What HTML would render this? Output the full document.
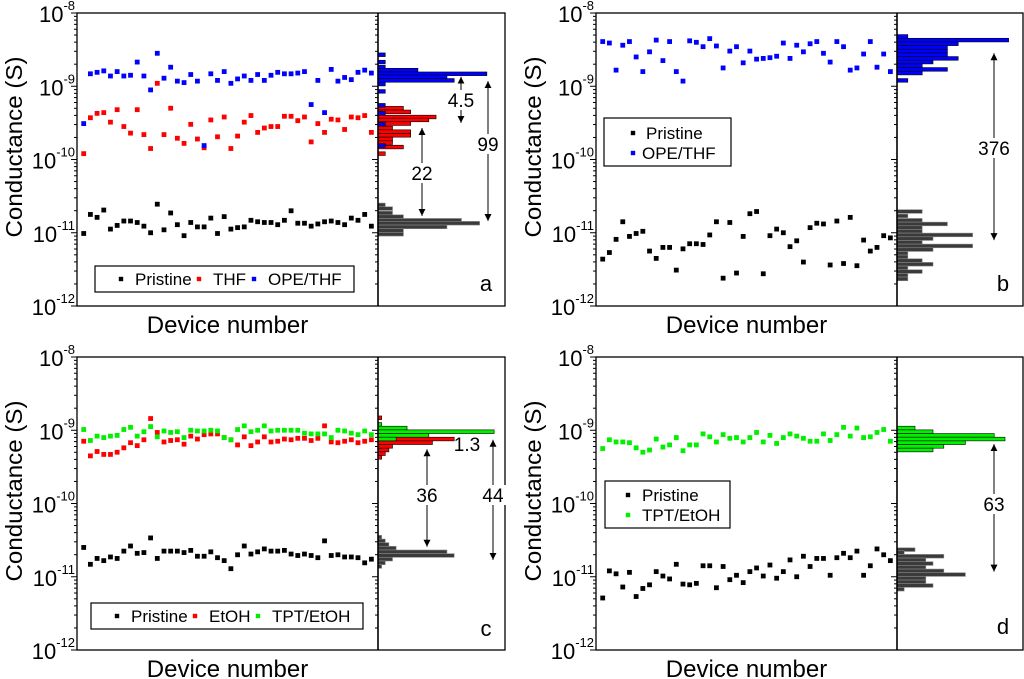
<!DOCTYPE html>
<html><head><meta charset="utf-8">
<style>
html,body{margin:0;padding:0;background:#fff;}
svg{display:block;font-family:"Liberation Sans",Arial,sans-serif;}
</style></head>
<body>
<svg id="fig" width="1024" height="679" viewBox="0 0 1024 679" xmlns="http://www.w3.org/2000/svg">
<defs>
<marker id="ah" viewBox="0 0 10 10" refX="10" refY="5" markerWidth="7" markerHeight="9" orient="auto-start-reverse" markerUnits="userSpaceOnUse"><path d="M0,0 L10,5 L0,10 z" fill="#000"/></marker>
</defs>
</svg>
<script>
// ---------- data (log10 of conductance in S) ----------
const aPristine=[-11.01,-10.75,-10.79,-10.69,-10.95,-10.90,-10.84,-10.84,-10.86,-10.91,-11.0,-10.61,-10.96,-10.73,-10.89,-11.04,-10.86,-10.92,-10.92,-10.80,-11.01,-10.78,-10.95,-10.93,-10.92,-10.83,-10.85,-10.86,-10.86,-10.89,-10.83,-10.70,-10.87,-10.87,-10.91,-10.88,-10.85,-10.84,-10.86,-10.89,-10.80,-10.83,-10.75,-10.91];
const aTHF=[-9.92,-9.43,-9.37,-9.36,-9.49,-9.32,-9.55,-9.64,-9.32,-9.66,-9.85,-8.96,-9.66,-9.30,-9.71,-9.78,-9.52,-9.72,-9.84,-9.46,-9.69,-9.42,-9.85,-9.68,-9.49,-9.40,-9.63,-9.57,-9.55,-9.55,-9.41,-9.41,-9.47,-9.42,-9.76,-9.51,-9.63,-9.45,-9.46,-9.59,-9.42,-9.43,-9.40,-9.63];
const aOPE=[-9.51,-8.83,-8.81,-8.79,-8.86,-8.80,-8.86,-8.85,-8.67,-8.86,-9.05,-8.55,-8.89,-8.74,-8.93,-8.95,-8.84,-8.93,-9.81,-8.83,-8.92,-8.80,-8.96,-8.90,-8.86,-8.92,-8.84,-8.92,-8.85,-8.81,-8.83,-8.83,-8.82,-8.80,-9.25,-8.92,-9.36,-8.77,-8.93,-8.88,-8.91,-8.81,-8.78,-8.82];
const bPristine=[-11.36,-11.27,-11.09,-10.85,-11.05,-11.01,-10.98,-11.25,-11.35,-11.20,-11.20,-11.51,-11.22,-11.15,-11.15,-11.16,-11.03,-10.85,-11.62,-10.86,-11.55,-11.05,-10.74,-10.71,-11.56,-11.04,-10.95,-11.0,-11.19,-11.11,-11.40,-10.93,-10.87,-10.88,-11.44,-10.84,-11.42,-10.79,-11.45,-11.10,-11.25,-11.20,-11.04,-11.07];
const bOPE=[-8.39,-8.41,-8.78,-8.44,-8.39,-8.60,-8.80,-8.53,-8.37,-8.65,-8.39,-8.80,-8.93,-8.38,-8.40,-8.46,-8.35,-8.45,-8.75,-8.52,-8.46,-8.68,-8.52,-8.63,-8.62,-8.61,-8.59,-8.41,-8.62,-8.44,-8.53,-8.42,-8.39,-8.55,-8.67,-8.39,-8.46,-8.78,-8.75,-8.56,-8.39,-8.74,-8.56,-8.80];
const cPristine=[-10.60,-10.83,-10.75,-10.78,-10.73,-10.75,-10.65,-10.58,-10.68,-10.67,-10.47,-10.75,-10.65,-10.65,-10.65,-10.67,-10.64,-10.72,-10.72,-10.66,-10.74,-10.78,-10.89,-10.70,-10.58,-10.69,-10.66,-10.62,-10.65,-10.65,-10.64,-10.69,-10.71,-10.69,-10.71,-10.74,-10.51,-10.71,-10.70,-10.73,-10.73,-10.74,-10.81,-10.76];
const cEtOH=[-9.15,-9.35,-9.29,-9.33,-9.33,-9.30,-9.24,-9.17,-9.21,-9.13,-8.84,-9.03,-9.16,-9.14,-9.13,-9.19,-9.08,-9.12,-9.06,-9.05,-9.05,-9.10,-9.13,-9.20,-9.09,-9.21,-9.16,-9.09,-9.16,-9.15,-9.12,-9.13,-9.11,-9.11,-9.14,-9.11,-8.94,-9.16,-9.17,-9.15,-9.13,-9.17,-9.15,-9.13];
const cTPT=[-8.99,-9.14,-9.08,-9.10,-9.08,-9.07,-8.99,-8.96,-9.08,-9.02,-8.95,-9.09,-9.01,-9.03,-9.02,-9.10,-9.0,-9.01,-9.01,-9.0,-9.01,-9.10,-9.13,-8.99,-8.94,-9.02,-9.0,-8.94,-9.01,-9.0,-9.0,-9.0,-9.0,-9.04,-9.05,-9.05,-9.05,-9.10,-9.0,-9.01,-9.04,-9.06,-9.01,-9.06];
const dPristine=[-11.29,-10.92,-10.96,-11.14,-10.94,-11.27,-11.16,-11.11,-10.93,-10.99,-11.03,-10.83,-11.10,-11.11,-11.09,-10.85,-10.85,-11.15,-10.86,-11.04,-10.98,-11.08,-10.93,-10.88,-10.99,-10.84,-11.02,-10.93,-10.77,-11.0,-10.72,-10.86,-10.75,-10.75,-10.98,-10.74,-10.68,-10.74,-10.65,-10.98,-10.85,-10.62,-10.70,-10.78];
const dTPT=[-9.25,-9.13,-9.16,-9.16,-9.17,-9.24,-9.30,-9.27,-9.12,-9.23,-9.20,-9.10,-9.28,-9.20,-9.20,-9.05,-9.09,-9.16,-9.06,-9.11,-9.10,-9.16,-9.10,-9.03,-9.16,-9.07,-9.18,-9.10,-9.05,-9.08,-9.11,-9.15,-9.15,-9.05,-9.14,-9.06,-8.96,-9.08,-8.97,-9.10,-9.09,-9.03,-8.99,-9.15];

// histogram bins: centre (log10 G) and counts
const aHistBlackBins=[-10.62,-10.67,-10.73,-10.78,-10.83,-10.87,-10.92,-10.97,-11.02];
const aHistBlackCounts=[2,4,4,7,23,28,19,7,7];
const aHistRedBins=[-9.30,-9.35,-9.42,-9.46,-9.51,-9.57,-9.62,-9.67,-9.72,-9.77,-9.83,-9.92];
const aHistRedCounts=[7,9,16,14,9,4,9,9,4,4,7,2];
const aHistBlueBins=[-8.57,-8.67,-8.74,-8.78,-8.83,-8.87,-8.92,-8.97,-9.07,-9.26,-9.37,-9.52,-9.81];
const aHistBlueCounts=[2,2,2,11,30,19,21,2,2,2,2,2,2];
const bHistBlueBins=[-8.32,-8.37,-8.42,-8.47,-8.52,-8.57,-8.62,-8.67,-8.72,-8.77,-8.82,-8.92];
const bHistBlueCounts=[3,31,17,14,14,14,17,10,7,14,7,3];
const bHistBlackBins=[-10.71,-10.77,-10.83,-10.88,-10.93,-10.98,-11.03,-11.08,-11.13,-11.18,-11.23,-11.28,-11.33,-11.38,-11.43,-11.48,-11.53,-11.58,-11.63];
const bHistBlackCounts=[7,3,7,14,7,7,21,10,7,21,10,3,3,7,10,3,7,3,3];
const cHistBlackBins=[-10.46,-10.51,-10.56,-10.61,-10.66,-10.71,-10.76,-10.81,-10.86];
const cHistBlackCounts=[1,2,3,5,19,21,4,2,1];
const cHistRedBins=[-8.83,-9.12,-9.17,-9.22,-9.27,-9.32,-9.37];
const cHistRedCounts=[1,21,15,4,3,2,1];
const cHistGreenBins=[-8.92,-8.97,-9.02,-9.07,-9.12];
const cHistGreenCounts=[1,8,32,14,5];
const dHistGreenBins=[-8.97,-9.02,-9.07,-9.12,-9.17,-9.22,-9.27];
const dHistGreenCounts=[5,10,27,30,19,13,10];
const dHistBlackBins=[-10.63,-10.67,-10.72,-10.77,-10.82,-10.87,-10.92,-10.97,-11.02,-11.07,-11.12,-11.17];
const dHistBlackCounts=[5,2,13,8,10,8,13,19,8,8,10,2];

const yTickExps=[-8,-9,-10,-11,-12];
const BIN=0.05, HISTMAX=35;

const NS="http://www.w3.org/2000/svg";
const svg=document.getElementById('fig');
function mk(tag,attrs,parent){const e=document.createElementNS(NS,tag);for(const k in attrs)e.setAttribute(k,attrs[k]);(parent||svg).appendChild(e);return e;}

function panel(cfg){
  const g=mk('g',{});
  
  
  const L=cfg.left,T=cfg.top,R=cfg.mid,HR=cfg.right,B=T+293;
  const y=v=>T+(-8-v)*73.25;
  const x=i=>L+6.7+i*6.69;
  const hx=c=>R+c*(HR-R)/HISTMAX;
  cfg.hists.forEach(h=>{
    h.bins.forEach((b,i)=>{
      const r=mk('rect',{x:R,y:y(b+BIN/2),width:Math.max(0,hx(h.counts[i])-R),height:BIN*73.25,fill:h.fill,stroke:h.stroke,'stroke-width':0.6},g);
      
      
    });
  });
  cfg.series.forEach(s=>{
    s.data.forEach((v,i)=>{
      const r=mk('rect',{x:x(i)-2.4,y:y(v)-2.4,width:4.8,height:4.8,fill:s.color},g);
      
      
    });
  });
  const fr=mk('rect',{x:L,y:T,width:HR-L,height:B-T,fill:'none',stroke:'#000','stroke-width':1.3},g);
  
  
  const dv=mk('line',{x1:R,y1:T,x2:R,y2:B,stroke:'#000','stroke-width':1.6},g);
  
  
  for(let e=-12;e<-8;e++){
    for(let m=1;m<10;m++){
      const v=e+Math.log10(m);const yy=y(v);const len=m===1?6:3;
      mk('line',{x1:L-len,y1:yy,x2:L,y2:yy,stroke:'#000','stroke-width':1},g);
      mk('line',{x1:R-len,y1:yy,x2:R,y2:yy,stroke:'#000','stroke-width':1},g);
    }
  }
  mk('line',{x1:L-6,y1:T,x2:L,y2:T,stroke:'#000','stroke-width':1},g);
  yTickExps.forEach(e=>{
    const t=mk('text',{x:L-2,y:y(e)+9,'font-size':22,'text-anchor':'end'},g);
    
    
    t.textContent='10';
    const s=mk('tspan',{dy:-12,'font-size':13},t);
    s.textContent=String(e);
  });
  const yt=mk('text',{x:0,y:0,'font-size':23,'text-anchor':'middle',textLength:181,lengthAdjust:'spacingAndGlyphs',transform:`translate(${L-55},${T+134}) rotate(-90)`},g);
  
  
  yt.textContent='Conductance (S)';
  const xt=mk('text',{x:(L+R)/2,y:B+27,'font-size':24,'text-anchor':'middle'},g);
  
  
  xt.textContent='Device number';
  cfg.arrows.forEach(a=>{
    const ln=mk('line',{x1:a.x,y1:y(a.from),x2:a.x,y2:y(a.to),stroke:'#000','stroke-width':1,'marker-start':'url(#ah)','marker-end':'url(#ah)'},g);
    
    
    const w=a.text.length*11+4;
    mk('rect',{x:a.x-w/2,y:a.ty-10,width:w,height:20,fill:'#fff'},g);
    const t=mk('text',{x:a.x,y:a.ty+7,'font-size':19,'text-anchor':'middle'},g);
    
    
    t.textContent=a.text;
  });
  (cfg.notes||[]).forEach(n=>{
    const t=mk('text',{x:n.x,y:n.y+7,'font-size':19,'text-anchor':'middle'},g);
    
    
    t.textContent=n.text;
  });
  const lg=cfg.legend;
  const lb=mk('rect',{x:lg.x,y:lg.y,width:lg.w,height:lg.h,fill:'#fff',stroke:'#000','stroke-width':1.2},g);
  
  
  lg.items.forEach(it=>{
    const m=mk('rect',{x:it.mx-2.2,y:it.y-2.2,width:4.4,height:4.4,fill:it.color},g);
    
    
    const t=mk('text',{x:it.tx,y:it.y+6,'font-size':17},g);
    
    
    t.textContent=it.text;
  });
  const pl=mk('text',{x:cfg.letter.x,y:cfg.letter.y+8,'font-size':22,'text-anchor':'middle'},g);
  
  
  pl.textContent=cfg.letter.t;
}
const BLK='#000',RED='#ff0000',BLU='#0000ff',GRN='#00f000';
panel({name:'panel-a',left:77,top:13,mid:378,right:505,
  series:[{label:'pristine',data:aPristine,color:BLK},{label:'thf',data:aTHF,color:RED},{label:'ope-thf',data:aOPE,color:BLU}],
  hists:[{label:'pristine',bins:aHistBlackBins,counts:aHistBlackCounts,fill:'#3a3a3a',stroke:'#888'},
         {label:'thf',bins:aHistRedBins,counts:aHistRedCounts,fill:RED,stroke:'#000'},
         {label:'ope-thf',bins:aHistBlueBins,counts:aHistBlueCounts,fill:BLU,stroke:'#000'}],
  arrows:[{x:461,from:-8.87,to:-9.50,text:'4.5',ty:100},{x:422,from:-9.57,to:-10.77,text:'22',ty:173},{x:488,from:-8.93,to:-10.84,text:'99',ty:144}],
  legend:{x:95,y:266,w:259,h:26,items:[{mx:121,tx:135,y:279,color:BLK,text:'Pristine'},{mx:199,tx:213,y:279,color:RED,text:'THF'},{mx:254,tx:268,y:279,color:BLU,text:'OPE/THF'}]},
  letter:{x:486,y:283,t:'a'}});
panel({name:'panel-b',left:596,top:13,mid:897,right:1023,
  series:[{label:'pristine',data:bPristine,color:BLK},{label:'ope-thf',data:bOPE,color:BLU}],
  hists:[{label:'pristine',bins:bHistBlackBins,counts:bHistBlackCounts,fill:'#3a3a3a',stroke:'#888'},
         {label:'ope-thf',bins:bHistBlueBins,counts:bHistBlueCounts,fill:BLU,stroke:'#000'}],
  arrows:[{x:994,from:-8.55,to:-11.10,text:'376',ty:148}],
  legend:{x:604,y:118,w:127,h:48,items:[{mx:633,tx:646,y:133,color:BLK,text:'Pristine'},{mx:633,tx:642,y:153,color:BLU,text:'OPE/THF'}]},
  letter:{x:1003,y:283,t:'b'}});
panel({name:'panel-c',left:77,top:357,mid:378,right:505,
  series:[{label:'pristine',data:cPristine,color:BLK},{label:'etoh',data:cEtOH,color:RED},{label:'tpt-etoh',data:cTPT,color:GRN}],
  hists:[{label:'pristine',bins:cHistBlackBins,counts:cHistBlackCounts,fill:'#3a3a3a',stroke:'#888'},
         {label:'etoh',bins:cHistRedBins,counts:cHistRedCounts,fill:RED,stroke:'#000'},
         {label:'tpt-etoh',bins:cHistGreenBins,counts:cHistGreenCounts,fill:GRN,stroke:'#000'}],
  arrows:[{x:427,from:-9.26,to:-10.59,text:'36',ty:495},{x:493,from:-9.13,to:-10.77,text:'44',ty:495}],
  notes:[{x:467,y:444,text:'1.3'}],
  legend:{x:91,y:603,w:272,h:26,items:[{mx:117,tx:131,y:616,color:BLK,text:'Pristine'},{mx:195,tx:209,y:616,color:RED,text:'EtOH'},{mx:258,tx:272,y:616,color:GRN,text:'TPT/EtOH'}]},
  letter:{x:486,y:628,t:'c'}});
panel({name:'panel-d',left:596,top:357,mid:897,right:1023,
  series:[{label:'pristine',data:dPristine,color:BLK},{label:'tpt-etoh',data:dTPT,color:GRN}],
  hists:[{label:'pristine',bins:dHistBlackBins,counts:dHistBlackCounts,fill:'#3a3a3a',stroke:'#888'},
         {label:'tpt-etoh',bins:dHistGreenBins,counts:dHistGreenCounts,fill:GRN,stroke:'#000'}],
  arrows:[{x:994,from:-9.19,to:-10.93,text:'63',ty:504}],
  legend:{x:605,y:481,w:125,h:47,items:[{mx:628,tx:642,y:495,color:BLK,text:'Pristine'},{mx:628,tx:642,y:515,color:GRN,text:'TPT/EtOH'}]},
  letter:{x:1003,y:626,t:'d'}});
</script>
</body></html>
